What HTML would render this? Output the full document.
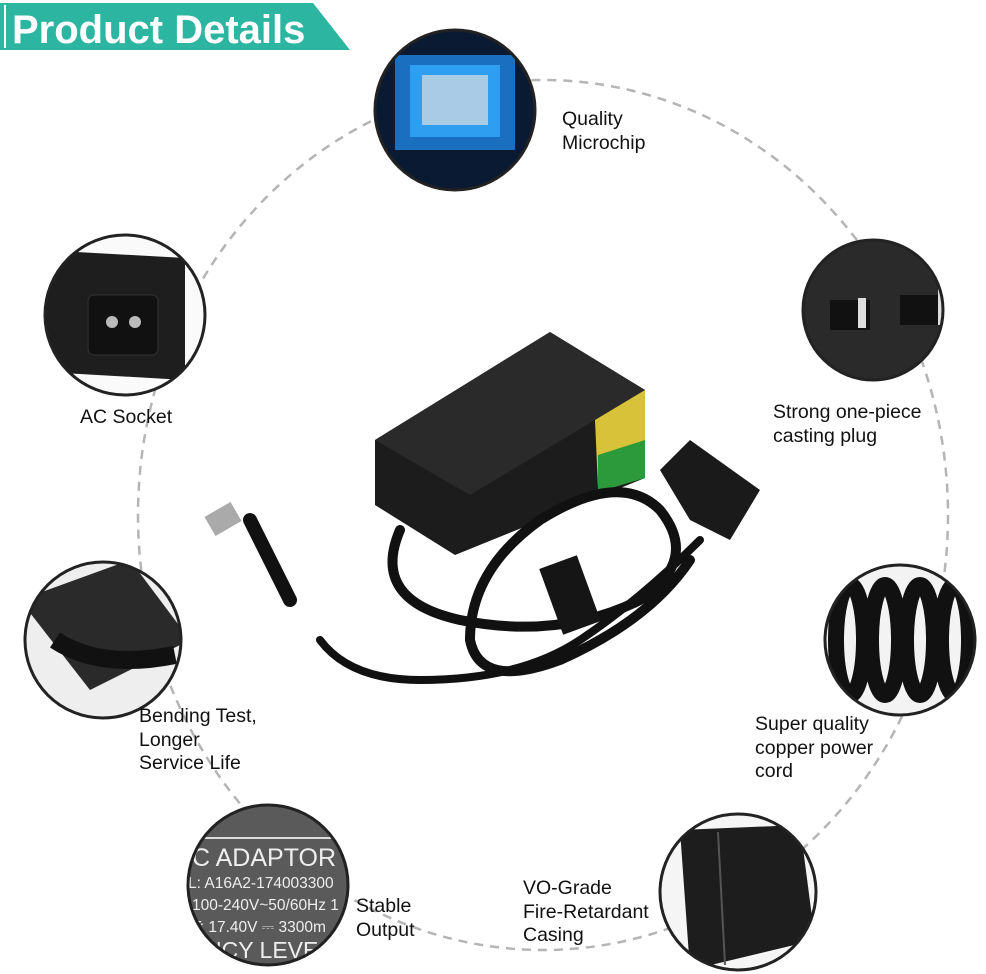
<!DOCTYPE html>
<html><head><style>
html,body{margin:0;padding:0;background:#fff}
body{width:986px;height:974px;position:relative;overflow:hidden;font-family:"Liberation Sans",Arial,sans-serif}
.t{position:absolute;font-size:19.5px;color:#111;line-height:23.5px}
</style></head><body>
<svg width="986" height="974" style="position:absolute;left:0;top:0">
<defs>
<clipPath id="c1"><circle cx="455" cy="110" r="80"/></clipPath>
<clipPath id="c2"><circle cx="125" cy="315" r="80"/></clipPath>
<clipPath id="c3"><circle cx="873" cy="310" r="70"/></clipPath>
<clipPath id="c4"><circle cx="103" cy="640" r="78"/></clipPath>
<clipPath id="c5"><circle cx="900" cy="640" r="75"/></clipPath>
<clipPath id="c6"><circle cx="268" cy="885" r="80"/></clipPath>
<clipPath id="c7"><circle cx="738" cy="892" r="78"/></clipPath>
</defs>
<ellipse cx="543" cy="515" rx="405" ry="435" fill="none" stroke="#b5b5b5" stroke-width="2.5" stroke-dasharray="9 7"/>
<polygon points="0,3 313,3 350,50 0,50" fill="#2cb5a0"/>
<line x1="5" y1="5" x2="5" y2="48" stroke="#fff" stroke-width="2"/>
<text x="12" y="43" font-family="Liberation Sans" font-weight="bold" font-size="40" fill="#fff">Product Details</text>
<!-- chip -->
<circle cx="455" cy="110" r="80" fill="#0b1a33"/>
<g clip-path="url(#c1)">
<rect x="395" y="55" width="120" height="95" fill="#1a6fc0"/>
<rect x="410" y="65" width="90" height="72" fill="#2e9ff0"/>
<rect x="422" y="75" width="66" height="50" fill="#a9cbe6"/>
</g>
<circle cx="455" cy="110" r="80" fill="none" stroke="#222" stroke-width="3"/>
<!-- AC socket -->
<circle cx="125" cy="315" r="80" fill="#fafafa"/>
<g clip-path="url(#c2)">
<path d="M40,250 L185,258 L185,380 L45,372 Z" fill="#1e1e1e"/>
<rect x="88" y="295" width="70" height="60" rx="6" fill="#111" stroke="#333"/>
<circle cx="112" cy="322" r="6" fill="#bbb"/><circle cx="135" cy="322" r="6" fill="#bbb"/>
</g>
<circle cx="125" cy="315" r="80" fill="none" stroke="#222" stroke-width="3"/>
<!-- plug -->
<circle cx="873" cy="310" r="70" fill="#2a2a2a"/>
<g clip-path="url(#c3)">
<rect x="830" y="300" width="40" height="30" fill="#111"/>
<rect x="900" y="295" width="40" height="30" fill="#111"/>
<rect x="858" y="298" width="8" height="30" fill="#ddd"/><rect x="938" y="285" width="8" height="40" fill="#ddd"/>
</g>
<circle cx="873" cy="310" r="70" fill="none" stroke="#222" stroke-width="3"/>
<!-- bend -->
<circle cx="103" cy="640" r="78" fill="#eee"/>
<g clip-path="url(#c4)">
<path d="M20,600 L130,560 L190,640 L90,690 Z" fill="#2a2a2a"/>
<path d="M55,640 Q100,670 175,655" stroke="#111" stroke-width="18" fill="none"/>
</g>
<circle cx="103" cy="640" r="78" fill="none" stroke="#222" stroke-width="3"/>
<!-- coil -->
<circle cx="900" cy="640" r="75" fill="#f3f3f3"/>
<g clip-path="url(#c5)" stroke="#111" stroke-width="16" fill="none">
<ellipse cx="850" cy="640" rx="14" ry="55"/><ellipse cx="885" cy="640" rx="14" ry="55"/><ellipse cx="920" cy="640" rx="14" ry="55"/><ellipse cx="955" cy="640" rx="14" ry="55"/></g>
<circle cx="900" cy="640" r="75" fill="none" stroke="#222" stroke-width="3"/>
<!-- label -->
<circle cx="268" cy="885" r="80" fill="#5a5a5a"/>
<g clip-path="url(#c6)" font-family="Liberation Sans" fill="#eee">
<line x1="180" y1="838" x2="350" y2="838" stroke="#ddd" stroke-width="2"/>
<text x="192" y="866" font-size="25">C ADAPTOR</text>
<text x="188" y="888" font-size="15.5">L:  A16A2-174003300</text>
<text x="192" y="910" font-size="15.5">100-240V~50/60Hz 1</text>
<text x="192" y="932" font-size="15.5">T: 17.40V ⎓ 3300m</text>
<text x="205" y="958" font-size="23">NCY LEVE</text>
</g>
<circle cx="268" cy="885" r="80" fill="none" stroke="#222" stroke-width="3"/>
<!-- casing -->
<circle cx="738" cy="892" r="78" fill="#f5f5f5"/>
<g clip-path="url(#c7)">
<path d="M680,830 L800,825 L815,940 L690,970 Z" fill="#1d1d1d"/>
<line x1="718" y1="832" x2="725" y2="965" stroke="#555" stroke-width="2"/>
</g>
<circle cx="738" cy="892" r="78" fill="none" stroke="#222" stroke-width="3"/>
<!-- adapter -->
<polygon points="375,440 550,332 645,390 645,478 455,555 375,505" fill="#1c1c1c"/>
<polygon points="375,440 550,332 645,390 470,495" fill="#2a2a2a"/>
<polygon points="595,420 645,390 645,465 598,488" fill="#d8c23a"/>
<polygon points="598,455 645,440 645,478 598,492" fill="#2c9a3a"/>
<g stroke="#111" fill="none" stroke-linecap="round">
<path d="M400,530 Q370,600 460,620 Q560,640 640,600 Q700,560 660,510 Q620,470 540,520 Q470,570 470,640 Q480,690 560,660 Q650,620 690,560" stroke-width="10"/>
<path d="M320,640 Q350,680 420,680 Q520,680 580,640 Q640,600 700,540" stroke-width="8"/>
<path d="M290,600 L250,520" stroke-width="14"/>
</g>
<rect x="208" y="508" width="30" height="22" fill="#aaa" transform="rotate(-30 223 519)"/>
<rect x="550" y="560" width="40" height="70" fill="#151515" transform="rotate(-20 570 595)"/>
<polygon points="660,470 690,440 760,490 730,540 690,520" fill="#1a1a1a"/>
</svg>
<div class="t" style="left:562px;top:108px">Quality<br>Microchip</div>
<div class="t" style="left:80px;top:406px">AC Socket</div>
<div class="t" style="left:773px;top:401px">Strong one-piece<br>casting plug</div>
<div class="t" style="left:139px;top:705px">Bending Test,<br>Longer<br>Service Life</div>
<div class="t" style="left:755px;top:713px">Super quality<br>copper power<br>cord</div>
<div class="t" style="left:356px;top:895px">Stable<br>Output</div>
<div class="t" style="left:523px;top:877px">VO-Grade<br>Fire-Retardant<br>Casing</div>
</body></html>
